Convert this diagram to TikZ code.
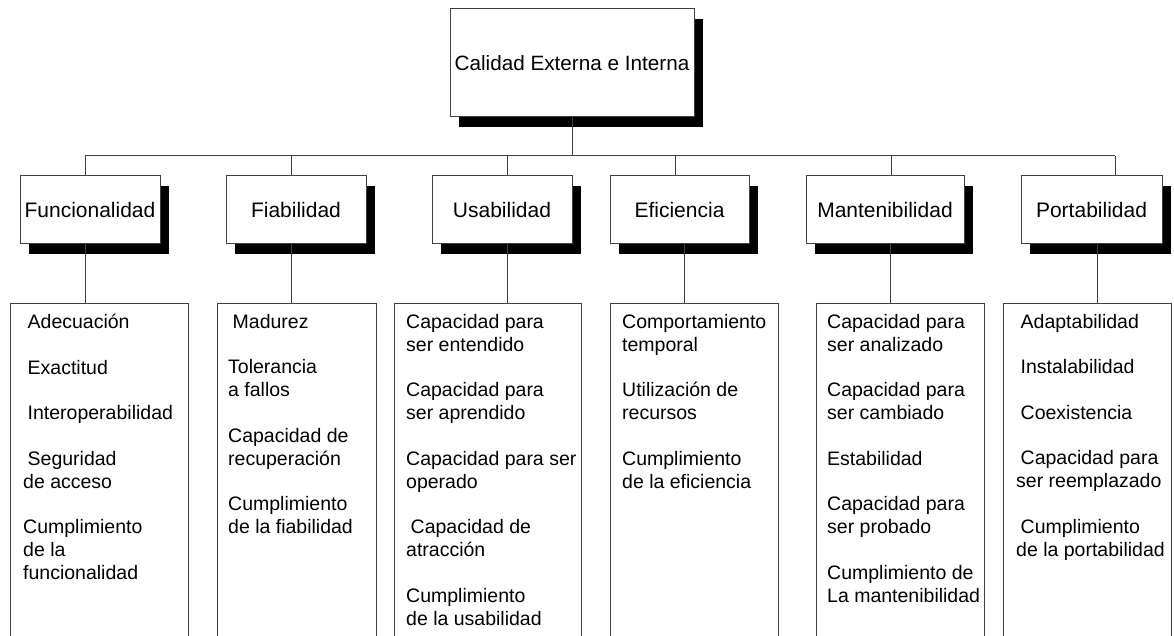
\documentclass[tikz,border=0pt]{standalone}
\usepackage{fontspec}
\setmainfont{Liberation Sans}
\usetikzlibrary{shadows}
\newcommand{\indsp}{\hspace*{4.5pt}}

\begin{document}
\begin{tikzpicture}[x=1pt, y=-1pt,
  box/.style={draw=black!75, line width=1pt, fill=white, inner sep=0pt,
    drop shadow={shadow xshift=9pt, shadow yshift=-10pt, fill=black, opacity=1}},
  catbox/.style={box, minimum height=68pt, font=\fontsize{21}{25}\selectfont},
  listbox/.style={draw=black!75, line width=1pt, inner sep=0pt, anchor=north west, minimum height=345pt},
  listtext/.style={anchor=north west, inner sep=0pt, align=left, font=\fontsize{19.5}{23}\selectfont},
  conn/.style={draw=black!75, line width=1pt}]
\useasboundingbox (0,0) rectangle (1174,636);

% Root
\node[box, minimum width=244pt, minimum height=108pt, font=\fontsize{20.7}{25}\selectfont] (root) at (572,63) {Calidad Externa e Interna};

% Characteristics
\node[catbox, minimum width=140pt] (fun) at (90,210) {Funcionalidad};
\node[catbox, minimum width=140pt] (fia) at (296,210) {Fiabilidad};
\node[catbox, minimum width=140pt] (usa) at (502,210) {Usabilidad};
\node[catbox, minimum width=139pt] (efi) at (679.5,210) {Eficiencia};
\node[catbox, minimum width=158pt] (man) at (885,210) {Mantenibilidad};
\node[catbox, minimum width=141pt] (por) at (1091.5,210) {Portabilidad};

% Sub-characteristic boxes (open at the bottom)
\node[listbox, minimum width=178pt] (fun-l) at (10,303) {};
\node[listbox, minimum width=159pt] (fia-l) at (217,303) {};
\node[listbox, minimum width=187pt] (usa-l) at (394,303) {};
\node[listbox, minimum width=168pt] (efi-l) at (610,303) {};
\node[listbox, minimum width=168pt] (man-l) at (816,303) {};
\node[listbox, minimum width=168pt] (por-l) at (1003,303) {};

\node[listtext] (fun-t) at ([xshift=13pt, yshift=-11pt]fun-l.north west)
  {\indsp Adecuación\\[22.5pt]%
   \indsp Exactitud\\[22.5pt]%
   \indsp Interoperabilidad\\[22.5pt]%
   \indsp Seguridad\\de acceso\\[22.5pt]%
   Cumplimiento\\de la\\funcionalidad};
\node[listtext] (fia-t) at ([xshift=11pt, yshift=-11pt]fia-l.north west)
  {\indsp Madurez\\[22.5pt]%
   Tolerancia\\a fallos\\[22.5pt]%
   Capacidad de\\recuperación\\[22.5pt]%
   Cumplimiento\\de la fiabilidad};
\node[listtext] (usa-t) at ([xshift=12pt, yshift=-11pt]usa-l.north west)
  {Capacidad para\\ser entendido\\[22.5pt]%
   Capacidad para\\ser aprendido\\[22.5pt]%
   Capacidad para ser\\operado\\[22.5pt]%
   \indsp Capacidad de\\atracción\\[22.5pt]%
   Cumplimiento\\de la usabilidad};
\node[listtext] (efi-t) at ([xshift=12pt, yshift=-11pt]efi-l.north west)
  {Comportamiento\\temporal\\[22.5pt]%
   Utilización de\\recursos\\[22.5pt]%
   Cumplimiento\\de la eficiencia};
\node[listtext] (man-t) at ([xshift=11pt, yshift=-11pt]man-l.north west)
  {Capacidad para\\ser analizado\\[22.5pt]%
   Capacidad para\\ser cambiado\\[22.5pt]%
   Estabilidad\\[22.5pt]%
   Capacidad para\\ser probado\\[22.5pt]%
   Cumplimiento de\\La mantenibilidad};
\node[listtext] (por-t) at ([xshift=13pt, yshift=-11pt]por-l.north west)
  {\indsp Adaptabilidad\\[22.5pt]%
   \indsp Instalabilidad\\[22.5pt]%
   \indsp Coexistencia\\[22.5pt]%
   \indsp Capacidad para\\ser reemplazado\\[22.5pt]%
   \indsp Cumplimiento\\de la portabilidad};

% Connectors
\draw[conn] (root.south) -- (root.south |- 0,156) coordinate (bus);
\draw[conn] (bus -| 85,0) -- (bus -| 1115,0);
\foreach \n/\xt/\xb in {fun/85/85, fia/291/291, usa/507/507, efi/675/684, man/891/890, por/1115/1097} {
  \draw[conn] (bus -| \xt,0) -- (\n.north -| \xt,0);
  \draw[conn] (\n.south -| \xb,0) -- (\n-l.north -| \xb,0);
}

\end{tikzpicture}
\end{document}
